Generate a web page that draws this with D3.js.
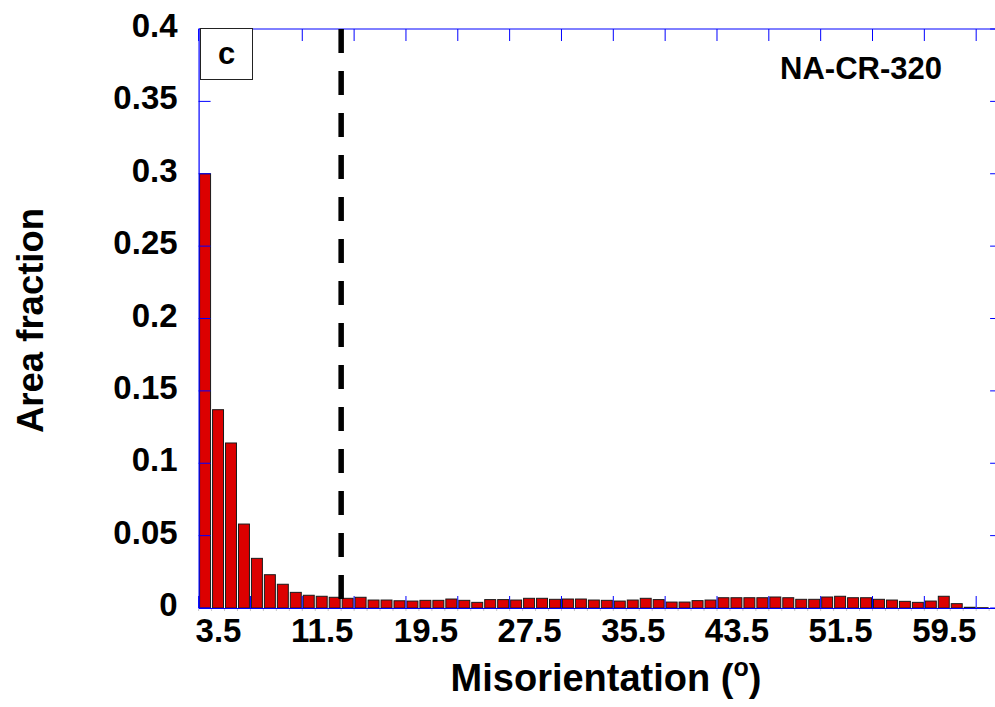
<!DOCTYPE html>
<html>
<head>
<meta charset="utf-8">
<script src="https://cdn.jsdelivr.net/npm/d3@7/dist/d3.min.js"></script>
<style>
  html, body { margin: 0; padding: 0; background: #fff; }
  svg { display: block; }
  text { font-family: "Liberation Sans", Arial, sans-serif; font-weight: bold; fill: #000; }
</style>
</head>
<body>
<svg id="chart" width="995" height="707"></svg>
<script>
// Lower edge of each 1-degree misorientation bin (degrees)
const binStarts = [
  2, 3, 4, 5, 6, 7, 8, 9, 10, 11, 12, 13, 14, 15, 16, 17, 18, 19, 20, 21,
  22, 23, 24, 25, 26, 27, 28, 29, 30, 31, 32, 33, 34, 35, 36, 37, 38, 39, 40, 41,
  42, 43, 44, 45, 46, 47, 48, 49, 50, 51, 52, 53, 54, 55, 56, 57, 58, 59, 60, 61,
  62
];
// Area fraction in each bin
const areaFraction = [
  0.300, 0.137, 0.114, 0.058, 0.0343, 0.023, 0.0164, 0.0108, 0.0088, 0.0081,
  0.0074, 0.0067, 0.0074, 0.0055, 0.0055, 0.0050, 0.0048, 0.0053, 0.0053, 0.0062,
  0.0053, 0.0039, 0.0058, 0.0058, 0.0055, 0.0067, 0.0067, 0.0060, 0.0062, 0.0062,
  0.0055, 0.0053, 0.0048, 0.0055, 0.0067, 0.0058, 0.0041, 0.0041, 0.0051, 0.0055,
  0.0071, 0.0071, 0.0071, 0.0071, 0.0076, 0.0071, 0.0060, 0.0060, 0.0076, 0.0081,
  0.0071, 0.0071, 0.0060, 0.0055, 0.0046, 0.0039, 0.0048, 0.0081, 0.0030, 0.0005,
  0.0002
];
const xTickLabels = [3.5, 11.5, 19.5, 27.5, 35.5, 43.5, 51.5, 59.5];
const xMinorTicks = [2, 6, 10, 14, 18, 22, 26, 30, 34, 38, 42, 46, 50, 54, 58, 62];
const yTicks = [0, 0.05, 0.1, 0.15, 0.2, 0.25, 0.3, 0.35, 0.4];
const yTickLabels = ["0", "0.05", "0.1", "0.15", "0.2", "0.25", "0.3", "0.35", "0.4"];
const thresholdAngle = 13;
const sampleName = "NA-CR-320";
const panelLetter = "c";

const svg = d3.select("#chart");
const plotLeft = 198.6, plotRight = 1002.1, plotTop = 29, plotBottom = 608;

const x = d3.scaleLinear().domain([2, 64]).range([plotLeft, plotRight]);
const y = d3.scaleLinear().domain([0, 0.4]).range([plotBottom, plotTop]);
const axisBlue = "#0000ff";
const fontFam = "'Liberation Sans', Arial, sans-serif";

// small grey marks under the baseline at each bin edge
svg.append("g")
  .selectAll("line")
  .data(binStarts.concat([63]))
  .join("line")
  .attr("x1", d => x(d)).attr("x2", d => x(d))
  .attr("y1", plotBottom + 1).attr("y2", plotBottom + 3)
  .attr("stroke", "#c8c8c8").attr("stroke-width", 1);

// bars
svg.append("g")
  .selectAll("rect")
  .data(binStarts.map((b, i) => ({ b, v: areaFraction[i] })))
  .join("rect")
  .attr("x", d => x(d.b) + 1)
  .attr("width", d => x(d.b + 1) - x(d.b) - 2)
  .attr("y", d => y(d.v))
  .attr("height", d => y(0) - y(d.v))
  .attr("fill", "#dc0000")
  .attr("stroke", "#1a1a1a")
  .attr("stroke-width", 1);

// left axis
const yAxisL = d3.axisLeft(y).tickValues(yTicks).tickSize(0).tickFormat((d, i) => yTickLabels[i]);
const gL = svg.append("g").attr("transform", `translate(${plotLeft},0)`).call(yAxisL);
gL.select(".domain").attr("stroke", axisBlue).attr("stroke-width", 1.2);
gL.selectAll(".tick text")
  .attr("x", -21).attr("dy", "0.32em")
  .attr("transform", "translate(0,-3)")
  .style("font-size", "33px").style("font-family", fontFam)
  .style("font-weight", "bold").attr("fill", "#000");
// inward tick marks on the left
svg.append("g").selectAll("line").data(yTicks).join("line")
  .attr("x1", plotLeft).attr("x2", plotLeft + 12)
  .attr("y1", d => y(d)).attr("y2", d => y(d))
  .attr("stroke", axisBlue).attr("stroke-width", 1);
// inward tick marks on the right
svg.append("g").selectAll("line").data(yTicks).join("line")
  .attr("x1", plotRight).attr("x2", plotRight - 12)
  .attr("y1", d => y(d)).attr("y2", d => y(d))
  .attr("stroke", axisBlue).attr("stroke-width", 1);

// top frame line and ticks
svg.append("line")
  .attr("x1", plotLeft).attr("x2", plotRight).attr("y1", plotTop).attr("y2", plotTop)
  .attr("stroke", axisBlue).attr("stroke-width", 1);
svg.append("g").selectAll("line").data(xMinorTicks).join("line")
  .attr("x1", d => x(d)).attr("x2", d => x(d))
  .attr("y1", plotTop).attr("y2", plotTop + 12)
  .attr("stroke", axisBlue).attr("stroke-width", 1);

// bottom axis: labels at bin centres, ticks every 4 degrees
const xAxisB = d3.axisBottom(x).tickValues(xTickLabels).tickSize(0).tickFormat(d => d.toFixed(1));
const gB = svg.append("g").attr("transform", `translate(0,${plotBottom})`).call(xAxisB);
gB.select(".domain").attr("stroke", axisBlue).attr("stroke-width", 1.2);
gB.selectAll(".tick text")
  .attr("y", 34).attr("dy", 0)
  .style("font-size", "33px").style("font-family", fontFam)
  .style("font-weight", "bold").attr("fill", "#000");
svg.append("g").selectAll("line").data(xMinorTicks).join("line")
  .attr("x1", d => x(d)).attr("x2", d => x(d))
  .attr("y1", plotBottom).attr("y2", plotBottom - 12)
  .attr("stroke", axisBlue).attr("stroke-width", 1);

// threshold marker
svg.append("line")
  .attr("x1", x(thresholdAngle)).attr("x2", x(thresholdAngle))
  .attr("y1", y(0.4)).attr("y2", y(0))
  .attr("stroke", "#000").attr("stroke-width", 5.5)
  .attr("stroke-dasharray", "24,18");

// panel letter box
svg.append("rect")
  .attr("x", 200.5).attr("y", 28.5).attr("width", 52).attr("height", 51)
  .attr("fill", "#fff").attr("stroke", "#222").attr("stroke-width", 1);
svg.append("text")
  .attr("x", 226.5).attr("y", 63.5)
  .attr("text-anchor", "middle")
  .style("font-size", "31px")
  .text(panelLetter);

// sample label
svg.append("text")
  .attr("x", 942).attr("y", 79)
  .attr("text-anchor", "end")
  .style("font-size", "31px")
  .text(sampleName);

// axis titles
svg.append("text")
  .attr("transform", `translate(43,${(plotTop + plotBottom) / 2 + 2}) rotate(-90)`)
  .attr("text-anchor", "middle")
  .style("font-size", "36.5px")
  .text("Area fraction");

const xt = svg.append("text")
  .attr("x", 606).attr("y", 691)
  .attr("text-anchor", "middle")
  .style("font-size", "38px");
xt.append("tspan").text("Misorientation (");
xt.append("tspan").attr("dy", -15).style("font-size", "25px").text("o");
xt.append("tspan").attr("dy", 15).text(")");
</script>
</body>
</html>
